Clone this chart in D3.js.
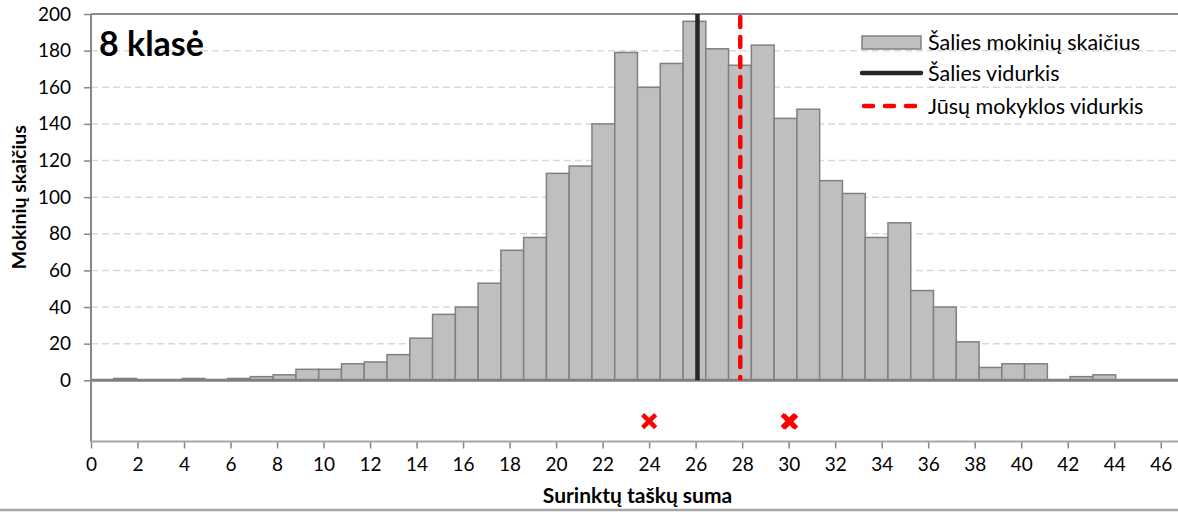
<!DOCTYPE html>
<html lang="lt">
<head>
    <meta charset="UTF-8">
    <title>8 klasė</title>
    <script src="https://d3js.org/d3.v7.min.js"></script>
    <style>
        html, body { margin: 0; padding: 0; background: #fff; }
        svg { display: block; font-family: Lato, "Open Sans", sans-serif; }
        .tick text { font-size: 19px; fill: #000; font-family: Lato, "Open Sans", sans-serif; }
    </style>
</head>
<body>
<div id="chart"></div>
<script>
    // Surinktų taškų suma (kategorijos) ir šalies mokinių skaičius
    var scores = d3.range(0, 48);
    var counts = [0, 1, 0, 0, 1, 0, 1, 2, 3, 6, 6, 9, 10, 14, 23, 36, 40, 53, 71, 78,
                  113, 117, 140, 179, 160, 173, 196, 181, 172, 183, 143, 148, 109, 102, 78, 86,
                  49, 40, 21, 7, 9, 9, 0, 2, 3, 0, 0, 0];
    var countryMean = 26.08;
    var schoolMean = 27.92;
    // mokyklos mokinių rezultatai (apatinė juosta)
    var schoolScores = [24, 30, 30];
    var xTicks = d3.range(0, 47, 2);
    var yTicks = d3.range(0, 201, 20);
    var legendLabels = ["Šalies mokinių skaičius", "Šalies vidurkis", "Jūsų mokyklos vidurkis"];

    var W = 1178, H = 512;
    var plotLeft = 91, plotRight = 1184, plotTop = 14, base = 380.3, plotBottom = 441.5;

    var svg = d3.select("#chart").append("svg")
        .attr("width", W).attr("height", H);

    var x = d3.scaleLinear().domain([0, 47]).range([plotLeft, plotRight]);
    var xb = d3.scaleBand().domain(scores).range([plotLeft, plotRight]).padding(0);
    var y = d3.scaleLinear().domain([0, 200]).range([base, plotTop]);
    var yLow = d3.scaleLinear().domain([0, 3]).range([plotBottom, base]);

    // tinklelis
    svg.append("g").selectAll("line")
        .data(yTicks.filter(function(d) { return d > 0 && d < 200; }))
        .join("line")
        .attr("x1", plotLeft).attr("x2", W)
        .attr("y1", function(d) { return y(d); }).attr("y2", function(d) { return y(d); })
        .attr("stroke", "#d9d9d9").attr("stroke-width", 1.5)
        .attr("stroke-dasharray", "7,4");

    // viršutinis rėmelis
    svg.append("line")
        .attr("x1", plotLeft).attr("x2", W).attr("y1", y(200)).attr("y2", y(200))
        .attr("stroke", "#8c8c8c").attr("stroke-width", 2);

    // stulpeliai
    svg.append("g").selectAll("rect")
        .data(counts)
        .join("rect")
        .attr("x", function(d, i) { return xb(scores[i]); })
        .attr("y", function(d) { return y(d); })
        .attr("width", xb.bandwidth())
        .attr("height", function(d) { return base - y(d); })
        .attr("fill", "#bfbfbf").attr("stroke", "#808080").attr("stroke-width", 1.5);

    // nulinė linija
    svg.append("line")
        .attr("x1", plotLeft).attr("x2", W).attr("y1", base).attr("y2", base)
        .attr("stroke", "#808080").attr("stroke-width", 3);

    // vidurkiai
    svg.append("line")
        .attr("x1", x(countryMean)).attr("x2", x(countryMean))
        .attr("y1", y(200)).attr("y2", base)
        .attr("stroke", "#262626").attr("stroke-width", 4.5);
    svg.append("line")
        .attr("x1", x(schoolMean)).attr("x2", x(schoolMean))
        .attr("y1", y(200) + 3).attr("y2", base - 2)
        .attr("stroke", "#ff0000").attr("stroke-width", 4.5)
        .attr("stroke-linecap", "round")
        .attr("stroke-dasharray", "10,10");

    // Y ašis
    var yAxis = svg.append("g")
        .attr("transform", "translate(" + plotLeft + ",0)")
        .call(d3.axisLeft(y).tickValues(yTicks).tickSize(7).tickSizeOuter(0).tickPadding(13));
    yAxis.select(".domain").remove();
    yAxis.selectAll(".tick line").attr("stroke", "#868686").attr("stroke-width", 1.5);
    svg.append("line")
        .attr("x1", plotLeft).attr("x2", plotLeft).attr("y1", plotTop).attr("y2", plotBottom)
        .attr("stroke", "#868686").attr("stroke-width", 2);

    // X ašis
    var xAxis = svg.append("g")
        .attr("transform", "translate(0," + plotBottom + ")")
        .call(d3.axisBottom(x).tickValues(xTicks).tickSize(7).tickSizeOuter(0).tickPadding(9));
    xAxis.select(".domain").remove();
    xAxis.selectAll(".tick line").attr("stroke", "#868686").attr("stroke-width", 1.5);
    svg.append("line")
        .attr("x1", plotLeft).attr("x2", W).attr("y1", plotBottom).attr("y2", plotBottom)
        .attr("stroke", "#a6a6a6").attr("stroke-width", 2);

    // mokyklos mokiniai – raudoni kryželiai
    var seen = {};
    svg.append("g").selectAll("path")
        .data(schoolScores)
        .join("path")
        .attr("transform", function(d) {
            var k = seen[d] = (seen[d] || 0) + 1;
            var off = (k - 1) * 1.5;
            return "translate(" + (x(d) + off) + "," + (yLow(1) + off * 0.3) + ")";
        })
        .attr("d", "M-6.5,-6.5L6.5,6.5M6.5,-6.5L-6.5,6.5")
        .attr("stroke", "#ff0000").attr("stroke-width", 4.5).attr("fill", "none");

    // pavadinimai
    svg.append("text")
        .attr("x", 99).attr("y", 56)
        .attr("font-size", 34).attr("font-weight", "bold")
        .text("8 klasė");

    svg.append("text")
        .attr("transform", "translate(26," + ((plotTop + base) / 2) + ") rotate(-90)")
        .attr("text-anchor", "middle")
        .attr("font-size", 19.5).attr("font-weight", "bold")
        .text("Mokinių skaičius");

    svg.append("text")
        .attr("x", (plotLeft + plotRight) / 2).attr("y", 503)
        .attr("text-anchor", "middle")
        .attr("font-size", 21).attr("font-weight", "bold")
        .text("Surinktų taškų suma");

    // legenda
    var legend = svg.append("g").attr("transform", "translate(862,0)");
    var legY = [42, 73, 106];
    legend.append("rect")
        .attr("x", 0).attr("y", legY[0] - 6).attr("width", 59).attr("height", 13)
        .attr("fill", "#bfbfbf").attr("stroke", "#808080").attr("stroke-width", 1.5);
    legend.append("line")
        .attr("x1", 0).attr("x2", 59).attr("y1", legY[1]).attr("y2", legY[1])
        .attr("stroke", "#262626").attr("stroke-width", 4.5).attr("stroke-linecap", "round");
    legend.append("line")
        .attr("x1", 2).attr("x2", 57).attr("y1", legY[2]).attr("y2", legY[2])
        .attr("stroke", "#ff0000").attr("stroke-width", 4.5).attr("stroke-linecap", "round")
        .attr("stroke-dasharray", "9,12");
    legend.selectAll("text")
        .data(legendLabels)
        .join("text")
        .attr("x", 66)
        .attr("y", function(d, i) { return legY[i]; })
        .attr("dy", "0.35em")
        .attr("font-size", 21.5)
        .text(function(d) { return d; });

    // apatinis rėmelis
    svg.append("line")
        .attr("x1", 0).attr("x2", W).attr("y1", 510).attr("y2", 510)
        .attr("stroke", "#a6a6a6").attr("stroke-width", 2.5);
</script>
</body>
</html>
